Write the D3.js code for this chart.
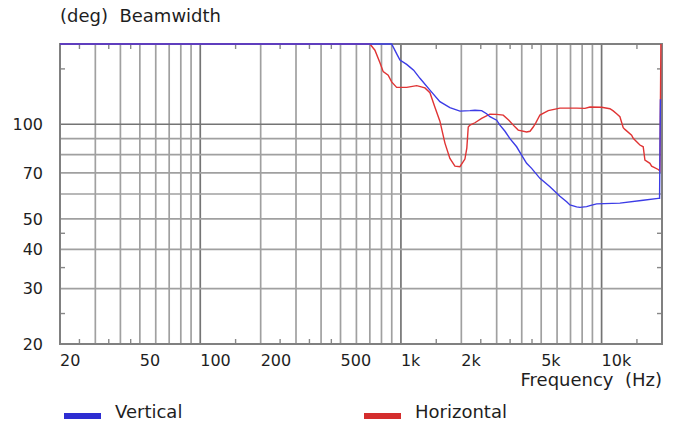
<!DOCTYPE html>
<html>
<head>
<meta charset="utf-8">
<script src="https://cdn.jsdelivr.net/npm/d3@7"></script>
<style>
  body { margin: 0; background: #ffffff; }
  text { font-family: "DejaVu Sans", Verdana, sans-serif; fill: #1e1e1e; }
</style>
</head>
<body>
<div id="viz"></div>
<script>

// [Hz, deg]
let vertical = [
  [20, 180], [899, 180], [960, 166], [989, 160], [1068, 155], [1109, 152],
  [1157, 148.6], [1244, 140], [1395, 128.4], [1564, 118], [1754, 113],
  [1968, 110.1], [2208, 110.5], [2338, 110.8], [2524, 110.5], [2673, 108],
  [2776, 105.7], [3000, 103], [3114, 99.4], [3300, 95], [3494, 90],
  [3772, 84.8], [3994, 79.8], [4230, 75.1], [4480, 72.4], [4928, 67.3],
  [5528, 63.3], [6198, 59], [6697, 56.7], [6955, 55.4], [7507, 54.6],
  [7798, 54.4], [8422, 54.7], [8748, 55.1], [9444, 55.8], [12338, 56.1],
  [16120, 57.3], [19148, 58.1], [19450, 58.1], [19500, 70.6], [19600, 105],
  [19640, 120]
];

let horizontal = [
  [20, 180], [701, 180], [742, 172], [786, 157], [816, 147], [864, 143.2],
  [899, 136.4], [952, 131], [1068, 131], [1198, 132.7], [1317, 130.5],
  [1395, 126], [1477, 113.3], [1564, 102.3], [1657, 87.1], [1754, 77.9],
  [1858, 73.6], [1968, 73.3], [2084, 77.5], [2130, 84], [2165, 98],
  [2208, 99.4], [2338, 101.1], [2524, 104.4], [2776, 107.7], [2998, 107.5],
  [3235, 106.9], [3450, 103], [3700, 98.1], [3842, 95.8], [4230, 94.5],
  [4400, 95], [4563, 98], [4700, 101], [4928, 107], [5420, 110.5],
  [6198, 112.5], [7507, 112.5], [8258, 112.3], [8748, 113.5], [10000, 113.3],
  [11004, 112], [11428, 110.3], [11882, 108], [12338, 105.7], [12816, 97.5],
  [13068, 96.3], [14112, 92.3], [14374, 90.2], [15522, 85.9], [16120, 84.8],
  [16440, 76.9], [17410, 75.1], [17754, 73.6], [19148, 71.8], [19524, 71.0],
  [19748, 180]
];

let xGrid = [30, 40, 50, 60, 70, 80, 90, 100, 200, 300, 400, 500, 600, 700, 800, 900,
  1000, 2000, 3000, 4000, 5000, 6000, 7000, 8000, 9000, 10000];
let xMajor = [100, 1000, 10000];
let xMinorTicks = [25, 35, 45, 150, 250, 350, 450, 1500, 2500, 3500, 4500, 15000];
let xLabels = [20, 50, 100, 200, 500, 1000, 2000, 5000, 10000];

let yGrid = [30, 40, 50, 60, 70, 80, 90, 100];
let yMajor = [100];
let yMinorTicks = [25, 35, 45, 150];
let yLabels = [20, 30, 40, 50, 70, 100];

let margin = { top: 44, left: 60 };
let width = 602;
let height = 300;

let svg = d3.select("#viz").append("svg")
  .attr("width", 678)
  .attr("height", 425);

let g = svg.append("g")
  .attr("transform", `translate(${margin.left},${margin.top})`);

let xScale = d3.scaleLog().domain([20, 20000]).range([0, width]);
let yScale = d3.scaleLog().domain([20, 180]).range([height, 0]);

// grid
g.append("g")
  .selectAll("line")
  .data(xGrid)
  .enter().append("line")
  .attr("x1", d => xScale(d)).attr("x2", d => xScale(d))
  .attr("y1", 0).attr("y2", height)
  .attr("stroke", d => xMajor.includes(d) ? "#747474" : "#a0a0a0")
  .attr("stroke-width", 1.7);

g.append("g")
  .selectAll("line")
  .data(yGrid)
  .enter().append("line")
  .attr("y1", d => yScale(d)).attr("y2", d => yScale(d))
  .attr("x1", 0).attr("x2", width)
  .attr("stroke", d => yMajor.includes(d) ? "#747474" : "#a0a0a0")
  .attr("stroke-width", 1.7);

// small ticks inside the frame
let tickLen = 5;
xMinorTicks.forEach(d => {
  [[height, height - tickLen], [0, tickLen]].forEach(p => {
    g.append("line")
      .attr("x1", xScale(d)).attr("x2", xScale(d))
      .attr("y1", p[0]).attr("y2", p[1])
      .attr("stroke", "#888").attr("stroke-width", 1.4);
  });
});
yMinorTicks.forEach(d => {
  [[0, tickLen], [width, width - tickLen]].forEach(p => {
    g.append("line")
      .attr("y1", yScale(d)).attr("y2", yScale(d))
      .attr("x1", p[0]).attr("x2", p[1])
      .attr("stroke", "#888").attr("stroke-width", 1.4);
  });
});

// frame
g.append("rect")
  .attr("x", 0).attr("y", 0)
  .attr("width", width).attr("height", height)
  .attr("fill", "none")
  .attr("stroke", "#808080")
  .attr("stroke-width", 2);

let line = d3.line()
  .x(d => xScale(d[0]))
  .y(d => yScale(d[1]));

g.append("path")
  .datum(horizontal)
  .attr("fill", "none")
  .attr("stroke", "#e03434")
  .attr("stroke-width", 1.4)
  .attr("d", line);

// blue on top (the flat part at the top edge shows blue)
g.append("path")
  .datum(vertical)
  .attr("fill", "none")
  .attr("stroke", "#3c3ce6")
  .attr("stroke-width", 1.4)
  .attr("d", line);

// axis labels
g.append("g")
  .selectAll("text")
  .data(xLabels)
  .enter().append("text")
  .attr("x", d => xScale(d))
  .attr("y", height + 22)
  .style("font-size", "16px")
  .text(d => d >= 1000 ? (d / 1000) + "k" : d);

g.append("g")
  .selectAll("text")
  .data(yLabels)
  .enter().append("text")
  .attr("x", -17)
  .attr("y", d => yScale(d))
  .attr("dy", "0.36em")
  .style("text-anchor", "end")
  .style("font-size", "16px")
  .text(d => d);

svg.append("text")
  .attr("x", 60)
  .attr("y", 22)
  .style("font-size", "18px")
  .attr("xml:space", "preserve")
  .text("(deg)  Beamwidth");

svg.append("text")
  .attr("x", 662)
  .attr("y", 386)
  .style("text-anchor", "end")
  .style("font-size", "18px")
  .attr("xml:space", "preserve")
  .text("Frequency  (Hz)");

// legend
let legend = [
  { name: "Vertical", color: "#2e2ed2", x: 64 },
  { name: "Horizontal", color: "#d42e2e", x: 364 }
];

legend.forEach(l => {
  svg.append("rect")
    .attr("x", l.x).attr("y", 413)
    .attr("width", 37).attr("height", 6)
    .attr("fill", l.color);
  svg.append("text")
    .attr("x", l.x + 51)
    .attr("y", 418)
    .style("font-size", "18px")
    .text(l.name);
});

</script>
</body>
</html>
